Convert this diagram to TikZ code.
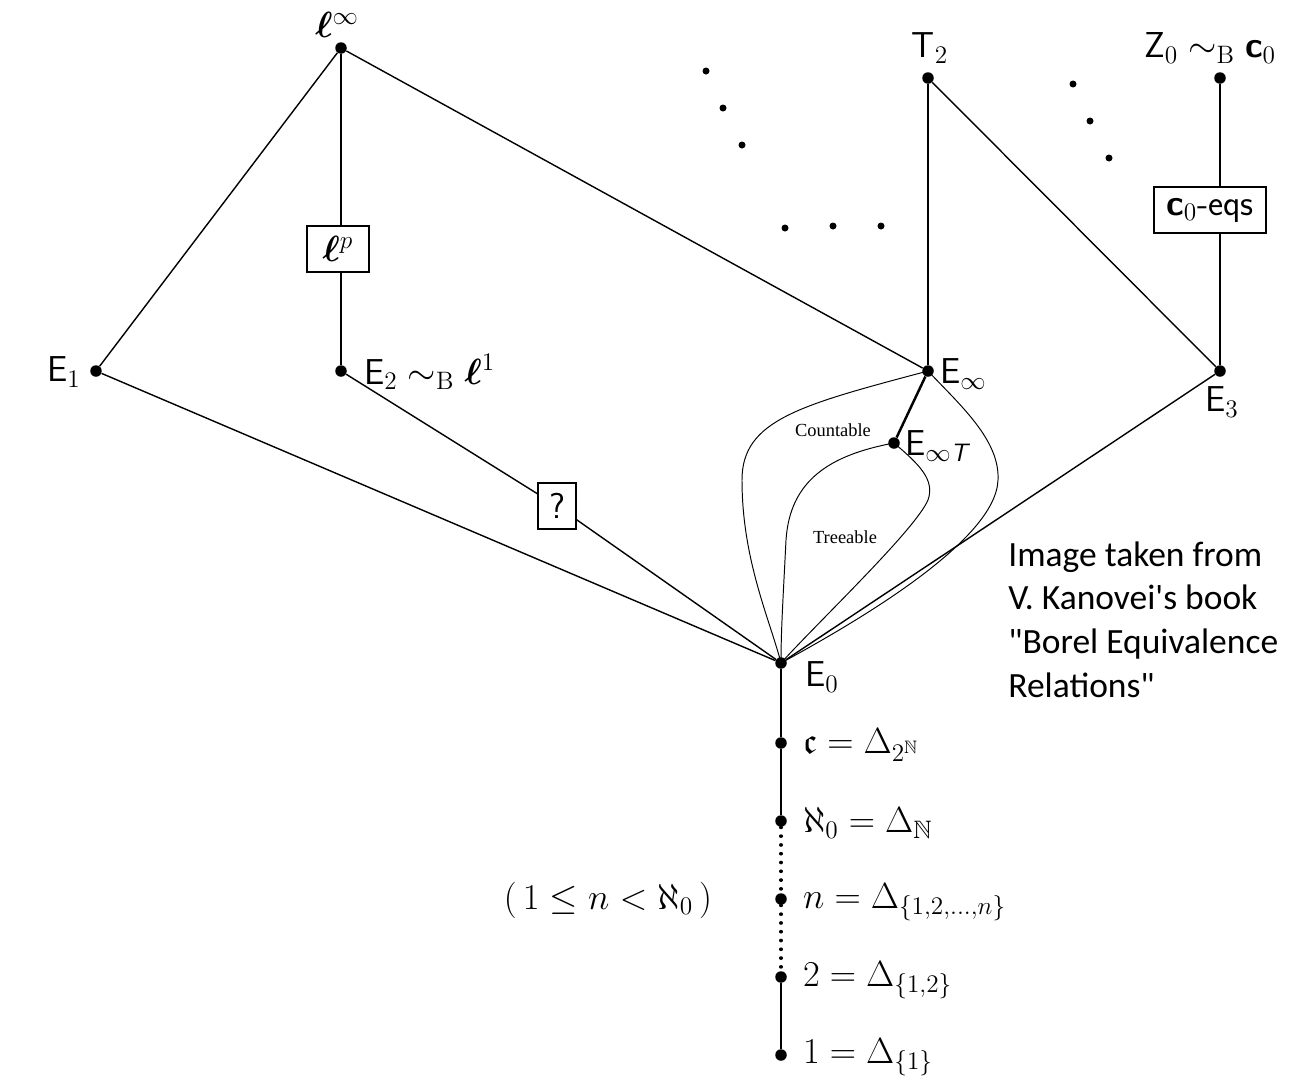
\documentclass[tikz,border=0pt]{standalone}
\usepackage{amsmath,amssymb}
\usepackage{bm}
\usepackage{fontspec}
\newfontfamily\notefont{Carlito}
\newfontfamily\regionfont{Liberation Serif}
\newcommand{\sfE}{\mathsf{E}}
\newcommand{\bell}{\bm{\ell}}
\newcommand{\simB}{\sim_{\mathrm{B}}}
\newcommand{\cnull}{\textsf{\bfseries c}_0}

\begin{document}
\begin{tikzpicture}[x=0.02cm, y=-0.02cm,
    dot/.style={circle, fill, inner sep=0pt, minimum size=0.23cm},
    edge/.style={line width=0.8pt},
    loopline/.style={line width=0.55pt},
    lbl/.style={inner sep=1pt, font=\fontsize{20.5}{24}\selectfont},
    labelbox/.style={draw, line width=0.75pt, inner sep=0pt, minimum height=0.92cm,
        font=\fontsize{20.5}{24}\selectfont},
    region/.style={inner sep=0pt, font=\regionfont\fontsize{10.5}{12}\selectfont},
    more/.style={circle, fill, inner sep=0pt, minimum size=0.14cm}]

        \useasboundingbox (0,0) rectangle (1295,1079);

        % === Upper nodes ===
        \node[dot] (linf) at (341,48) {};
        \node[dot] (E1) at (96,371) {};
        \node[dot] (E2) at (341,371) {};
        \node[dot] (T2) at (928,78) {};
        \node[dot] (Einf) at (928,371) {};
        \node[dot] (EinfT) at (894,443) {};
        \node[dot] (Z0) at (1220,78) {};
        \node[dot] (E3) at (1220,371) {};
        \node[dot] (E0) at (781,663) {};

        \node[labelbox, minimum width=1.24cm] (lp) at (338,249) {$\bell^p$};
        \node[labelbox, minimum width=0.76cm] (qbox) at (557,506) {\textsf{?}};
        \node[labelbox, minimum width=2.24cm] (c0box) at (1210,210) {$\cnull$\textsf{-eqs}};

        % === Labels ===
        \node[lbl] (linf-l) at (337,25) {$\bell^\infty$};
        \node[lbl] (E1-l) at (64,372) {$\sfE_1$};
        \node[lbl, anchor=west] (E2-l) at (362,372) {$\sfE_2 \simB \bell^1$};
        \node[lbl] (T2-l) at (930,48) {$\mathsf{T}_2$};
        \node[lbl] (Z0-l) at (1210,48) {$\mathsf{Z}_0 \simB \cnull$};
        \node[lbl, anchor=west] (Einf-l) at (938,374) {$\sfE_\infty$};
        \node[lbl, anchor=west] (EinfT-l) at (903,446) {$\sfE_{\infty\textsf{\itshape T}}$};
        \node[lbl] (E3-l) at (1222,402) {$\sfE_3$};
        \node[lbl] (E0-l) at (822,677) {$\sfE_0$};

        \node[region] (countable) at (833,430) {Countable};
        \node[region] (treeable) at (845,537) {Treeable};

        % === Lines of the upper part ===
        \draw[edge] (linf) -- (E1);
        \draw[edge] (linf) -- (linf |- lp.north);
        \draw[edge] (lp.south -| E2) -- (E2);
        \draw[edge] (linf) -- (Einf);
        \draw[edge] (E1) -- (E0);
        \draw[edge] (E2) -- (qbox) -- (E0);
        \draw[edge] (T2) -- (Einf);
        \draw[edge] (T2) -- (E3);
        \draw[edge] (Z0) -- (Z0 |- c0box.north);
        \draw[edge] (c0box.south -| E3) -- (E3);
        \draw[edge] (E3) -- (E0);
        \draw[line width=1.4pt] (Einf) -- (EinfT);

        % Countable and treeable loops
        \draw[loopline] (Einf.center) .. controls (800,405) and (742,420) .. (742,480)
            .. controls (742,560) and (770,620) .. (E0.center);
        \draw[loopline] (Einf.center) .. controls (960,405) and (1000,440) .. (998,480)
            .. controls (996,540) and (860,620) .. (E0.center);
        \draw[loopline] (EinfT.center) .. controls (830,455) and (790,480) .. (786,540)
            .. controls (783,600) and (781,630) .. (E0.center);
        \draw[loopline] (EinfT.center) .. controls (920,465) and (935,480) .. (928,500)
            .. controls (915,530) and (820,620) .. (E0.center);

        % === Dots for the omitted part ===
        \foreach \px/\py in {706/71, 723/108, 742/145, 785/228, 833/226, 881/226,
                1073/84, 1090/121, 1109/158}
            \node[more] at (\px,\py) {};

        % === Chain below E0 ===
        \node[dot] (cont) at (781,743) {};
        \node[dot] (aleph) at (781,821) {};
        \node[dot] (nn) at (781,899) {};
        \node[dot] (two) at (781,977) {};
        \node[dot] (one) at (781,1055) {};

        \node[lbl, anchor=west] (cont-l) at (801,745) {$\mathfrak{c} = \Delta_{2^{\mathbb{N}}}$};
        \node[lbl, anchor=west] (aleph-l) at (801,823) {$\aleph_0 = \Delta_{\mathbb{N}}$};
        \node[lbl, anchor=west] (nn-l) at (801,902) {$n = \Delta_{\{1,2,\ldots,n\}}$};
        \node[lbl, anchor=west] (two-l) at (801,980) {$2 = \Delta_{\{1,2\}}$};
        \node[lbl, anchor=west] (one-l) at (801,1057) {$1 = \Delta_{\{1\}}$};
        \node[lbl] (range) at (608,900) {$(\,1 \le n < \aleph_0\,)$};

        \draw[edge] (E0) -- (cont) -- (aleph);
        \draw[line width=1.8pt, line cap=round, dash pattern=on 0.3pt off 4.7pt]
            (aleph) -- (nn) -- (two);
        \draw[edge] (two) -- (one);

        % === Note ===
        \node[anchor=north west, align=left, inner sep=0pt,
            font=\notefont\fontsize{20.2}{25}\selectfont] (note) at (1008,541)
            {Image taken from\\V. Kanovei\textquotesingle s book\\
             \textquotedbl Borel Equivalence\\Relations\textquotedbl};

    \end{tikzpicture}
\end{document}
